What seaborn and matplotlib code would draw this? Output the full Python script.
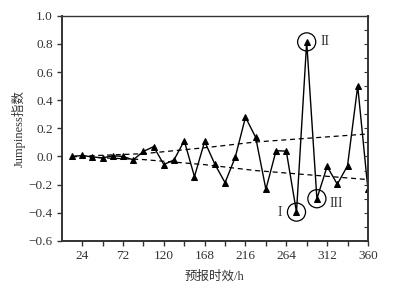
import numpy as np
import pandas as pd
import matplotlib
matplotlib.use("Agg")
import matplotlib.pyplot as plt
import seaborn as sns

# datos
horas = list(range(12, 361, 12))
jumpiness = [0.0, 0.007, -0.003, -0.01, 0.005, 0.0, -0.024, 0.036, 0.07, -0.057,
             -0.024, 0.112, -0.143, 0.107, -0.055, -0.186, -0.005, 0.279, 0.136, -0.233,
             0.041, 0.038, -0.395, 0.814, -0.30, -0.071, -0.197, -0.066, 0.50, -0.233]

horas_env = [12, 96, 168, 228, 360]
env_sup = [0.0, 0.02, 0.062, 0.103, 0.16]
env_inf = [0.0, -0.022, -0.058, -0.10, -0.164]

casos_horas = [276, 288, 300]
casos_nombres = ["I", "II", "III"]

xticks_mayores = list(range(24, 361, 48))
xticks_menores = list(range(48, 337, 48))
yticks = [-0.6, -0.4, -0.2, 0.0, 0.2, 0.4, 0.6, 0.8, 1.0]

sns.set_theme(style="ticks")
plt.rcParams['font.family'] = ['Liberation Serif', 'Noto Sans CJK SC']
plt.rcParams['axes.unicode_minus'] = True
gris = "#333333"

fig = plt.figure(figsize=(4.12, 2.91), dpi=100)
ax = fig.add_axes([0.150, 0.172, 0.743, 0.774])

df = pd.DataFrame({'hora': horas, 'jump': jumpiness})
sns.lineplot(data=df, x='hora', y='jump', ax=ax, color='black', lw=1.0,
             marker='^', markersize=5, markeredgecolor='black', markerfacecolor='black')

ax.plot(horas_env, env_sup, color='black', lw=0.9, ls=(0, (4, 3)))
ax.plot(horas_env, env_inf, color='black', lw=0.9, ls=(0, (4, 3)))

# casos marcados
offsets = {"I": (-12, 0), "II": (13, 0), "III": (14, -3.6)}
for h, nombre in zip(casos_horas, casos_nombres):
    v = jumpiness[horas.index(h)]
    ax.scatter([h], [v], s=170, facecolors='none', edgecolors='black', linewidths=0.9, zorder=5)
    ax.annotate(nombre, (h, v), xytext=offsets[nombre], textcoords='offset points',
                ha='center', va='center', fontsize=10, color=gris)

ax.set_xlim(0, 360)
ax.set_ylim(-0.6, 1.0)
ax.set_xticks(xticks_mayores)
ax.set_xticks(xticks_menores, minor=True)
ax.set_yticks(yticks)
ax.set_yticklabels([f"{t:.1f}".replace("-", "\u2212") for t in yticks])
ax.tick_params(axis='both', which='both', direction='out', length=3.5, width=1.0,
               colors=gris, labelsize=9.5, labelcolor=gris, pad=3)

for lado in ['left', 'bottom', 'right']:
    ax.spines[lado].set_linewidth(1.4)
    ax.spines[lado].set_color(gris)
ax.spines['top'].set_linewidth(1.0)
ax.spines['top'].set_color(gris)

ax2 = ax.twinx()
ax2.set_ylim(-0.6, 1.0)
ax2.set_yticks(np.round(np.arange(-0.6, 1.01, 0.1), 1))
ax2.tick_params(axis='y', direction='in', length=3, width=0.8, colors=gris, labelright=False)
for s in ax2.spines.values():
    s.set_visible(False)

ax.set_xlabel("预报时效/h", fontsize=9, color=gris, va='center')
ax.set_ylabel("Jumpiness指数", fontsize=9, color=gris, va='center')
ax.xaxis.set_label_coords(0.5, -0.16)
ax.yaxis.set_label_coords(-0.14, 0.5)

fig.savefig("out.png", dpi=100)
